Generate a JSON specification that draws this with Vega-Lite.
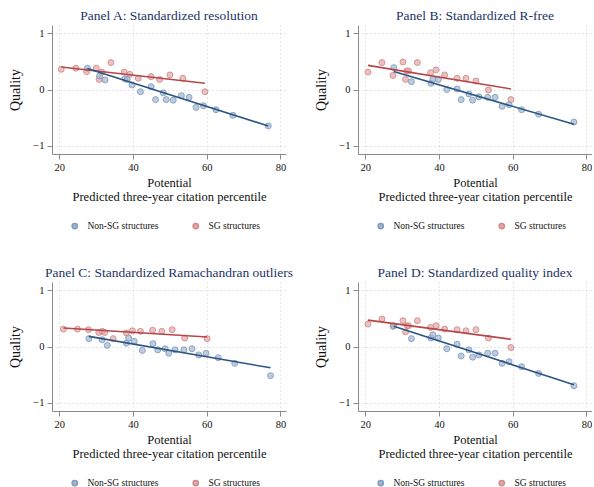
{
  "$schema": "https://vega.github.io/schema/vega-lite/v6.json",
  "padding": {"left": 8, "top": 8, "right": 0, "bottom": 2},
  "background": "white",
  "bounds": "flush",
  "config": {
    "font": "Liberation Serif",
    "view": {"stroke": null},
    "axis": {
      "domainColor": "#8a8a8a",
      "tickColor": "#8a8a8a",
      "labelColor": "#111111",
      "labelFont": "Liberation Serif",
      "labelFontSize": 10.5,
      "titleFont": "Liberation Serif",
      "titleFontWeight": "normal",
      "titleColor": "#111111",
      "gridColor": "#cccccc",
      "gridDash": [1, 3],
      "gridWidth": 1,
      "tickSize": 5,
      "labelPadding": 3
    },
    "axisX": {"titleFontSize": 12.5, "titleLineHeight": 14, "titlePadding": 4},
    "axisY": {"titleFontSize": 14, "titlePadding": 10},
    "legend": {
      "orient": "none",
      "legendX": 18,
      "legendY": 196,
      "direction": "horizontal",
      "title": null,
      "labelFont": "Liberation Serif",
      "labelFontSize": 9.5,
      "labelColor": "#111111",
      "symbolSize": 28,
      "labelOffset": 8,
      "columnPadding": 31
    },
    "title": {
      "font": "Liberation Serif",
      "fontSize": 13.5,
      "fontWeight": "normal",
      "color": "#1c3467",
      "offset": 3
    }
  },
  "datasets": {
    "pts": [
      {"panel": "A", "group": "SG structures", "x": 20.5, "y": 0.36},
      {"panel": "A", "group": "SG structures", "x": 24.5, "y": 0.38},
      {"panel": "A", "group": "SG structures", "x": 27.4, "y": 0.32},
      {"panel": "A", "group": "SG structures", "x": 30.0, "y": 0.38},
      {"panel": "A", "group": "SG structures", "x": 30.8, "y": 0.18},
      {"panel": "A", "group": "SG structures", "x": 31.5, "y": 0.31},
      {"panel": "A", "group": "SG structures", "x": 34.0, "y": 0.48},
      {"panel": "A", "group": "SG structures", "x": 37.6, "y": 0.31},
      {"panel": "A", "group": "SG structures", "x": 39.1, "y": 0.27},
      {"panel": "A", "group": "SG structures", "x": 41.4, "y": 0.20},
      {"panel": "A", "group": "SG structures", "x": 44.9, "y": 0.23},
      {"panel": "A", "group": "SG structures", "x": 47.2, "y": 0.18},
      {"panel": "A", "group": "SG structures", "x": 50.0, "y": 0.26},
      {"panel": "A", "group": "SG structures", "x": 53.5, "y": 0.20},
      {"panel": "A", "group": "SG structures", "x": 59.5, "y": -0.04},
      {"panel": "A", "group": "Non-SG structures", "x": 27.6, "y": 0.38},
      {"panel": "A", "group": "Non-SG structures", "x": 30.9, "y": 0.24},
      {"panel": "A", "group": "Non-SG structures", "x": 32.4, "y": 0.17},
      {"panel": "A", "group": "Non-SG structures", "x": 37.8, "y": 0.19},
      {"panel": "A", "group": "Non-SG structures", "x": 38.4, "y": 0.18},
      {"panel": "A", "group": "Non-SG structures", "x": 39.7, "y": 0.08},
      {"panel": "A", "group": "Non-SG structures", "x": 42.0, "y": -0.04},
      {"panel": "A", "group": "Non-SG structures", "x": 44.9, "y": 0.05},
      {"panel": "A", "group": "Non-SG structures", "x": 46.1, "y": -0.18},
      {"panel": "A", "group": "Non-SG structures", "x": 48.2, "y": -0.06},
      {"panel": "A", "group": "Non-SG structures", "x": 49.0, "y": -0.18},
      {"panel": "A", "group": "Non-SG structures", "x": 50.9, "y": -0.19},
      {"panel": "A", "group": "Non-SG structures", "x": 53.1, "y": -0.11},
      {"panel": "A", "group": "Non-SG structures", "x": 55.2, "y": -0.14},
      {"panel": "A", "group": "Non-SG structures", "x": 57.1, "y": -0.32},
      {"panel": "A", "group": "Non-SG structures", "x": 59.1, "y": -0.29},
      {"panel": "A", "group": "Non-SG structures", "x": 62.5, "y": -0.36},
      {"panel": "A", "group": "Non-SG structures", "x": 67.1, "y": -0.46},
      {"panel": "A", "group": "Non-SG structures", "x": 76.7, "y": -0.65},

      {"panel": "B", "group": "SG structures", "x": 20.7, "y": 0.31},
      {"panel": "B", "group": "SG structures", "x": 24.5, "y": 0.48},
      {"panel": "B", "group": "SG structures", "x": 27.5, "y": 0.25},
      {"panel": "B", "group": "SG structures", "x": 30.2, "y": 0.49},
      {"panel": "B", "group": "SG structures", "x": 30.9, "y": 0.18},
      {"panel": "B", "group": "SG structures", "x": 31.2, "y": 0.33},
      {"panel": "B", "group": "SG structures", "x": 31.7, "y": 0.33},
      {"panel": "B", "group": "SG structures", "x": 34.1, "y": 0.48},
      {"panel": "B", "group": "SG structures", "x": 37.7, "y": 0.30},
      {"panel": "B", "group": "SG structures", "x": 39.2, "y": 0.35},
      {"panel": "B", "group": "SG structures", "x": 41.5, "y": 0.26},
      {"panel": "B", "group": "SG structures", "x": 44.9, "y": 0.20},
      {"panel": "B", "group": "SG structures", "x": 47.3, "y": 0.20},
      {"panel": "B", "group": "SG structures", "x": 50.0, "y": 0.15},
      {"panel": "B", "group": "SG structures", "x": 53.4, "y": -0.01},
      {"panel": "B", "group": "SG structures", "x": 59.5, "y": -0.18},
      {"panel": "B", "group": "Non-SG structures", "x": 27.7, "y": 0.39},
      {"panel": "B", "group": "Non-SG structures", "x": 32.5, "y": 0.14},
      {"panel": "B", "group": "Non-SG structures", "x": 37.8, "y": 0.11},
      {"panel": "B", "group": "Non-SG structures", "x": 38.3, "y": 0.18},
      {"panel": "B", "group": "Non-SG structures", "x": 39.8, "y": 0.18},
      {"panel": "B", "group": "Non-SG structures", "x": 42.1, "y": 0.00},
      {"panel": "B", "group": "Non-SG structures", "x": 44.9, "y": 0.01},
      {"panel": "B", "group": "Non-SG structures", "x": 46.0, "y": -0.18},
      {"panel": "B", "group": "Non-SG structures", "x": 48.1, "y": -0.08},
      {"panel": "B", "group": "Non-SG structures", "x": 49.1, "y": -0.19},
      {"panel": "B", "group": "Non-SG structures", "x": 50.8, "y": -0.13},
      {"panel": "B", "group": "Non-SG structures", "x": 53.2, "y": -0.14},
      {"panel": "B", "group": "Non-SG structures", "x": 55.2, "y": -0.14},
      {"panel": "B", "group": "Non-SG structures", "x": 57.1, "y": -0.30},
      {"panel": "B", "group": "Non-SG structures", "x": 59.0, "y": -0.27},
      {"panel": "B", "group": "Non-SG structures", "x": 62.4, "y": -0.36},
      {"panel": "B", "group": "Non-SG structures", "x": 67.0, "y": -0.44},
      {"panel": "B", "group": "Non-SG structures", "x": 76.6, "y": -0.58},

      {"panel": "C", "group": "SG structures", "x": 21.1, "y": 0.31},
      {"panel": "C", "group": "SG structures", "x": 24.9, "y": 0.31},
      {"panel": "C", "group": "SG structures", "x": 27.9, "y": 0.30},
      {"panel": "C", "group": "SG structures", "x": 30.7, "y": 0.25},
      {"panel": "C", "group": "SG structures", "x": 31.6, "y": 0.27},
      {"panel": "C", "group": "SG structures", "x": 32.3, "y": 0.25},
      {"panel": "C", "group": "SG structures", "x": 34.6, "y": 0.14},
      {"panel": "C", "group": "SG structures", "x": 38.2, "y": 0.24},
      {"panel": "C", "group": "SG structures", "x": 39.8, "y": 0.28},
      {"panel": "C", "group": "SG structures", "x": 42.0, "y": 0.27},
      {"panel": "C", "group": "SG structures", "x": 45.3, "y": 0.29},
      {"panel": "C", "group": "SG structures", "x": 47.8, "y": 0.27},
      {"panel": "C", "group": "SG structures", "x": 50.6, "y": 0.30},
      {"panel": "C", "group": "SG structures", "x": 54.0, "y": 0.15},
      {"panel": "C", "group": "SG structures", "x": 60.1, "y": 0.14},
      {"panel": "C", "group": "Non-SG structures", "x": 28.0, "y": 0.14},
      {"panel": "C", "group": "Non-SG structures", "x": 31.6, "y": 0.12},
      {"panel": "C", "group": "Non-SG structures", "x": 33.0, "y": 0.02},
      {"panel": "C", "group": "Non-SG structures", "x": 38.2, "y": 0.06},
      {"panel": "C", "group": "Non-SG structures", "x": 38.8, "y": 0.15},
      {"panel": "C", "group": "Non-SG structures", "x": 40.3, "y": 0.09},
      {"panel": "C", "group": "Non-SG structures", "x": 42.5, "y": -0.07},
      {"panel": "C", "group": "Non-SG structures", "x": 45.4, "y": 0.05},
      {"panel": "C", "group": "Non-SG structures", "x": 46.7, "y": -0.06},
      {"panel": "C", "group": "Non-SG structures", "x": 48.7, "y": -0.04},
      {"panel": "C", "group": "Non-SG structures", "x": 49.7, "y": -0.12},
      {"panel": "C", "group": "Non-SG structures", "x": 51.4, "y": -0.06},
      {"panel": "C", "group": "Non-SG structures", "x": 53.8, "y": -0.06},
      {"panel": "C", "group": "Non-SG structures", "x": 56.0, "y": -0.04},
      {"panel": "C", "group": "Non-SG structures", "x": 57.8, "y": -0.15},
      {"panel": "C", "group": "Non-SG structures", "x": 59.8, "y": -0.12},
      {"panel": "C", "group": "Non-SG structures", "x": 63.1, "y": -0.20},
      {"panel": "C", "group": "Non-SG structures", "x": 67.6, "y": -0.30},
      {"panel": "C", "group": "Non-SG structures", "x": 77.3, "y": -0.52},

      {"panel": "D", "group": "SG structures", "x": 20.7, "y": 0.40},
      {"panel": "D", "group": "SG structures", "x": 24.5, "y": 0.49},
      {"panel": "D", "group": "SG structures", "x": 27.5, "y": 0.36},
      {"panel": "D", "group": "SG structures", "x": 30.2, "y": 0.46},
      {"panel": "D", "group": "SG structures", "x": 30.9, "y": 0.26},
      {"panel": "D", "group": "SG structures", "x": 31.4, "y": 0.37},
      {"panel": "D", "group": "SG structures", "x": 31.7, "y": 0.37},
      {"panel": "D", "group": "SG structures", "x": 34.1, "y": 0.46},
      {"panel": "D", "group": "SG structures", "x": 37.7, "y": 0.34},
      {"panel": "D", "group": "SG structures", "x": 39.2, "y": 0.37},
      {"panel": "D", "group": "SG structures", "x": 41.5, "y": 0.31},
      {"panel": "D", "group": "SG structures", "x": 44.9, "y": 0.30},
      {"panel": "D", "group": "SG structures", "x": 47.3, "y": 0.28},
      {"panel": "D", "group": "SG structures", "x": 50.0, "y": 0.30},
      {"panel": "D", "group": "SG structures", "x": 53.4, "y": 0.15},
      {"panel": "D", "group": "SG structures", "x": 59.5, "y": -0.02},
      {"panel": "D", "group": "Non-SG structures", "x": 27.7, "y": 0.37},
      {"panel": "D", "group": "Non-SG structures", "x": 32.5, "y": 0.14},
      {"panel": "D", "group": "Non-SG structures", "x": 37.8, "y": 0.15},
      {"panel": "D", "group": "Non-SG structures", "x": 38.3, "y": 0.21},
      {"panel": "D", "group": "Non-SG structures", "x": 39.8, "y": 0.15},
      {"panel": "D", "group": "Non-SG structures", "x": 42.1, "y": -0.04},
      {"panel": "D", "group": "Non-SG structures", "x": 44.9, "y": 0.04},
      {"panel": "D", "group": "Non-SG structures", "x": 46.0, "y": -0.17},
      {"panel": "D", "group": "Non-SG structures", "x": 48.1, "y": -0.06},
      {"panel": "D", "group": "Non-SG structures", "x": 49.1, "y": -0.19},
      {"panel": "D", "group": "Non-SG structures", "x": 50.8, "y": -0.15},
      {"panel": "D", "group": "Non-SG structures", "x": 53.2, "y": -0.12},
      {"panel": "D", "group": "Non-SG structures", "x": 55.2, "y": -0.12},
      {"panel": "D", "group": "Non-SG structures", "x": 57.1, "y": -0.30},
      {"panel": "D", "group": "Non-SG structures", "x": 59.0, "y": -0.27},
      {"panel": "D", "group": "Non-SG structures", "x": 62.4, "y": -0.36},
      {"panel": "D", "group": "Non-SG structures", "x": 67.0, "y": -0.48},
      {"panel": "D", "group": "Non-SG structures", "x": 76.6, "y": -0.70}
    ],
    "fits": [
      {"panel": "A", "group": "SG structures", "x": 20.5, "y": 0.40},
      {"panel": "A", "group": "SG structures", "x": 59.5, "y": 0.11},
      {"panel": "A", "group": "Non-SG structures", "x": 27.6, "y": 0.375},
      {"panel": "A", "group": "Non-SG structures", "x": 76.7, "y": -0.65},
      {"panel": "B", "group": "SG structures", "x": 20.7, "y": 0.43},
      {"panel": "B", "group": "SG structures", "x": 59.5, "y": 0.01},
      {"panel": "B", "group": "Non-SG structures", "x": 27.7, "y": 0.32},
      {"panel": "B", "group": "Non-SG structures", "x": 76.6, "y": -0.62},
      {"panel": "C", "group": "SG structures", "x": 21.1, "y": 0.33},
      {"panel": "C", "group": "SG structures", "x": 60.1, "y": 0.17},
      {"panel": "C", "group": "Non-SG structures", "x": 28.0, "y": 0.18},
      {"panel": "C", "group": "Non-SG structures", "x": 77.3, "y": -0.38},
      {"panel": "D", "group": "SG structures", "x": 20.7, "y": 0.47},
      {"panel": "D", "group": "SG structures", "x": 59.5, "y": 0.13},
      {"panel": "D", "group": "Non-SG structures", "x": 27.7, "y": 0.36},
      {"panel": "D", "group": "Non-SG structures", "x": 76.6, "y": -0.68}
    ]
  },
  "columns": 2,
  "spacing": {"row": 128, "column": 72},
  "resolve": {"legend": {"fill": "independent", "stroke": "independent"}},
  "concat": [
    {
      "title": "Panel A: Standardized resolution",
      "width": 234, "height": 129,
      "layer": [
        {
          "data": {"name": "pts"},
          "transform": [{"filter": "datum.panel == 'A'"}],
          "mark": {"type": "point", "shape": "circle", "filled": false, "size": 36, "strokeWidth": 1, "fillOpacity": 0.7, "strokeOpacity": 0.85},
          "encoding": {
            "x": {"field": "x", "type": "quantitative", "scale": {"domain": [18, 81.5], "nice": false, "zero": false}, "axis": {"values": [20, 40, 60, 80], "title": ["Potential", "Predicted three-year citation percentile"]}},
            "y": {"field": "y", "type": "quantitative", "scale": {"domain": [-1.15, 1.15], "nice": false, "zero": false}, "axis": {"values": [-1, -0.5, 0, 0.5, 1], "title": "Quality", "labelExpr": "datum.value == 0.5 ? '.5' : datum.value == -0.5 ? '-.5' : format(datum.value, 'd')"}},
            "fill": {"field": "group", "type": "nominal", "scale": {"domain": ["Non-SG structures", "SG structures"], "range": ["#a2b6cf", "#e5a7a7"]}, "legend": {}},
            "stroke": {"field": "group", "type": "nominal", "scale": {"domain": ["Non-SG structures", "SG structures"], "range": ["#7f9bbd", "#cf8a8a"]}, "legend": {}}
          }
        },
        {
          "data": {"name": "fits"},
          "transform": [{"filter": "datum.panel == 'A'"}],
          "mark": {"type": "line", "strokeWidth": 1.6},
          "encoding": {
            "x": {"field": "x", "type": "quantitative"},
            "y": {"field": "y", "type": "quantitative"},
            "color": {"field": "group", "type": "nominal", "scale": {"domain": ["Non-SG structures", "SG structures"], "range": ["#2c5584", "#b5474a"]}, "legend": null}
          }
        }
      ]
    },
    {
      "title": "Panel B: Standardized R-free",
      "width": 234, "height": 129,
      "layer": [
        {
          "data": {"name": "pts"},
          "transform": [{"filter": "datum.panel == 'B'"}],
          "mark": {"type": "point", "shape": "circle", "filled": false, "size": 36, "strokeWidth": 1, "fillOpacity": 0.7, "strokeOpacity": 0.85},
          "encoding": {
            "x": {"field": "x", "type": "quantitative", "scale": {"domain": [18, 81.5], "nice": false, "zero": false}, "axis": {"values": [20, 40, 60, 80], "title": ["Potential", "Predicted three-year citation percentile"]}},
            "y": {"field": "y", "type": "quantitative", "scale": {"domain": [-1.15, 1.15], "nice": false, "zero": false}, "axis": {"values": [-1, -0.5, 0, 0.5, 1], "title": "Quality", "labelExpr": "datum.value == 0.5 ? '.5' : datum.value == -0.5 ? '-.5' : format(datum.value, 'd')"}},
            "fill": {"field": "group", "type": "nominal", "scale": {"domain": ["Non-SG structures", "SG structures"], "range": ["#a2b6cf", "#e5a7a7"]}, "legend": {}},
            "stroke": {"field": "group", "type": "nominal", "scale": {"domain": ["Non-SG structures", "SG structures"], "range": ["#7f9bbd", "#cf8a8a"]}, "legend": {}}
          }
        },
        {
          "data": {"name": "fits"},
          "transform": [{"filter": "datum.panel == 'B'"}],
          "mark": {"type": "line", "strokeWidth": 1.6},
          "encoding": {
            "x": {"field": "x", "type": "quantitative"},
            "y": {"field": "y", "type": "quantitative"},
            "color": {"field": "group", "type": "nominal", "scale": {"domain": ["Non-SG structures", "SG structures"], "range": ["#2c5584", "#b5474a"]}, "legend": null}
          }
        }
      ]
    },
    {
      "title": "Panel C: Standardized Ramachandran outliers",
      "width": 234, "height": 129,
      "layer": [
        {
          "data": {"name": "pts"},
          "transform": [{"filter": "datum.panel == 'C'"}],
          "mark": {"type": "point", "shape": "circle", "filled": false, "size": 36, "strokeWidth": 1, "fillOpacity": 0.7, "strokeOpacity": 0.85},
          "encoding": {
            "x": {"field": "x", "type": "quantitative", "scale": {"domain": [18, 81.5], "nice": false, "zero": false}, "axis": {"values": [20, 40, 60, 80], "title": ["Potential", "Predicted three-year citation percentile"]}},
            "y": {"field": "y", "type": "quantitative", "scale": {"domain": [-1.15, 1.15], "nice": false, "zero": false}, "axis": {"values": [-1, -0.5, 0, 0.5, 1], "title": "Quality", "labelExpr": "datum.value == 0.5 ? '.5' : datum.value == -0.5 ? '-.5' : format(datum.value, 'd')"}},
            "fill": {"field": "group", "type": "nominal", "scale": {"domain": ["Non-SG structures", "SG structures"], "range": ["#a2b6cf", "#e5a7a7"]}, "legend": {}},
            "stroke": {"field": "group", "type": "nominal", "scale": {"domain": ["Non-SG structures", "SG structures"], "range": ["#7f9bbd", "#cf8a8a"]}, "legend": {}}
          }
        },
        {
          "data": {"name": "fits"},
          "transform": [{"filter": "datum.panel == 'C'"}],
          "mark": {"type": "line", "strokeWidth": 1.6},
          "encoding": {
            "x": {"field": "x", "type": "quantitative"},
            "y": {"field": "y", "type": "quantitative"},
            "color": {"field": "group", "type": "nominal", "scale": {"domain": ["Non-SG structures", "SG structures"], "range": ["#2c5584", "#b5474a"]}, "legend": null}
          }
        }
      ]
    },
    {
      "title": "Panel D: Standardized quality index",
      "width": 234, "height": 129,
      "layer": [
        {
          "data": {"name": "pts"},
          "transform": [{"filter": "datum.panel == 'D'"}],
          "mark": {"type": "point", "shape": "circle", "filled": false, "size": 36, "strokeWidth": 1, "fillOpacity": 0.7, "strokeOpacity": 0.85},
          "encoding": {
            "x": {"field": "x", "type": "quantitative", "scale": {"domain": [18, 81.5], "nice": false, "zero": false}, "axis": {"values": [20, 40, 60, 80], "title": ["Potential", "Predicted three-year citation percentile"]}},
            "y": {"field": "y", "type": "quantitative", "scale": {"domain": [-1.15, 1.15], "nice": false, "zero": false}, "axis": {"values": [-1, -0.5, 0, 0.5, 1], "title": "Quality", "labelExpr": "datum.value == 0.5 ? '.5' : datum.value == -0.5 ? '-.5' : format(datum.value, 'd')"}},
            "fill": {"field": "group", "type": "nominal", "scale": {"domain": ["Non-SG structures", "SG structures"], "range": ["#a2b6cf", "#e5a7a7"]}, "legend": {}},
            "stroke": {"field": "group", "type": "nominal", "scale": {"domain": ["Non-SG structures", "SG structures"], "range": ["#7f9bbd", "#cf8a8a"]}, "legend": {}}
          }
        },
        {
          "data": {"name": "fits"},
          "transform": [{"filter": "datum.panel == 'D'"}],
          "mark": {"type": "line", "strokeWidth": 1.6},
          "encoding": {
            "x": {"field": "x", "type": "quantitative"},
            "y": {"field": "y", "type": "quantitative"},
            "color": {"field": "group", "type": "nominal", "scale": {"domain": ["Non-SG structures", "SG structures"], "range": ["#2c5584", "#b5474a"]}, "legend": null}
          }
        }
      ]
    }
  ]
}
